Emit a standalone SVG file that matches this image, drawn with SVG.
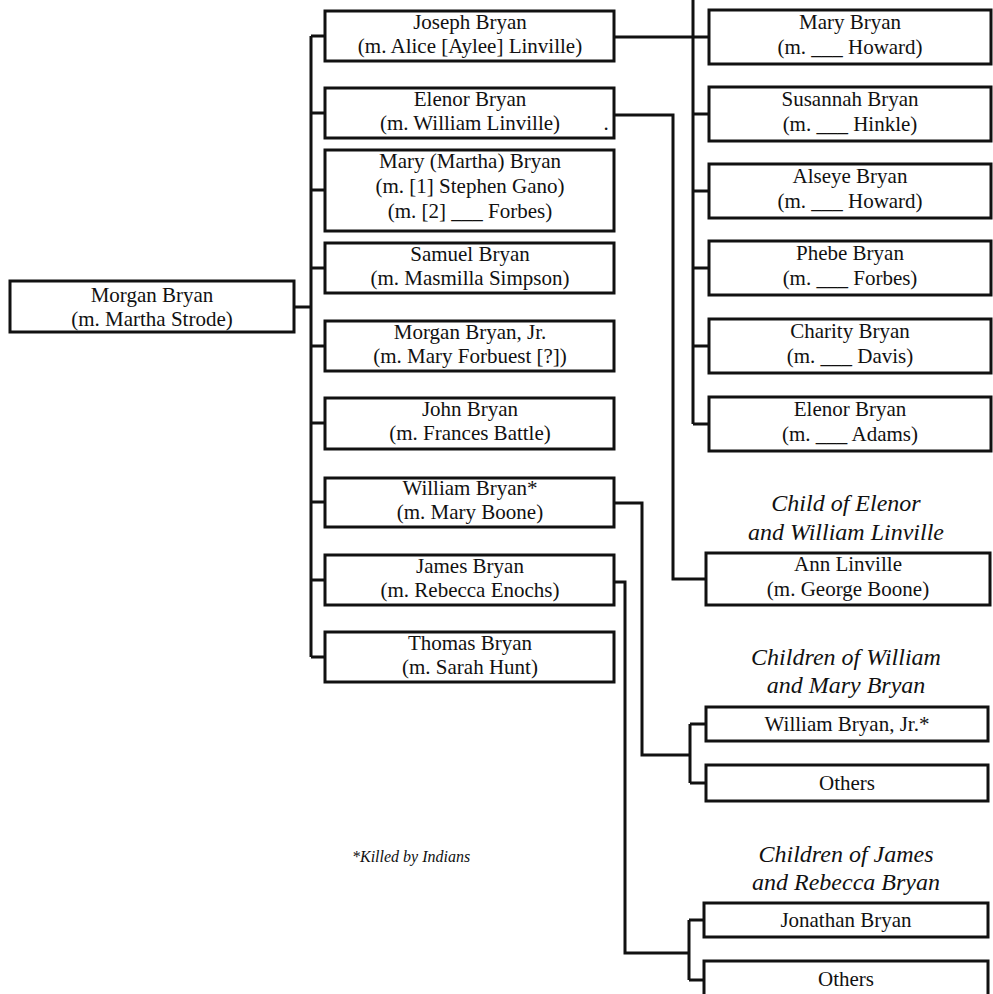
<svg xmlns="http://www.w3.org/2000/svg" width="993" height="994" viewBox="0 0 993 994">
<style>
  .box { fill: #fff; stroke: #111; stroke-width: 3; }
  .ln { fill: none; stroke: #111; stroke-width: 3; stroke-linejoin: miter; }
  .t { font-family: "Liberation Serif", "Times New Roman", serif; font-size: 21px; fill: #111; text-anchor: middle; }
  .cap { font-family: "Liberation Serif", "Times New Roman", serif; font-style: italic; font-size: 24px; fill: #111; text-anchor: middle; }
  .note { font-family: "Liberation Serif", "Times New Roman", serif; font-style: italic; font-size: 16px; fill: #111; }
</style>
<rect width="993" height="994" fill="#fff"/>

<g id="connectors">
  <!-- root to trunk -->
  <path class="ln" d="M294 307 H311"/>
  <path class="ln" d="M311 36 V657"/>
  <path class="ln" d="M311 36 H325 M311 113 H325 M311 190 H325 M311 268 H325 M311 346 H325 M311 423 H325 M311 502 H325 M311 580 H325 M311 657 H325"/>
  <!-- Joseph children -->
  <path class="ln" d="M614 37 H709"/>
  <path class="ln" d="M693 0 V424"/>
  <path class="ln" d="M693 114 H709 M693 191 H709 M693 268 H709 M693 346 H709 M693 424 H709"/>
  <!-- Elenor child -->
  <path class="ln" d="M614 115 H673 V579 H706"/>
  <!-- William children -->
  <path class="ln" d="M614 503 H642 V755 H690"/>
  <path class="ln" d="M690 724 V783 M690 724 H706 M690 783 H706"/>
  <!-- James children -->
  <path class="ln" d="M614 582 H625 V953 H689"/>
  <path class="ln" d="M689 920 V980 M689 920 H704 M689 980 H704"/>
</g>

<g id="morgan">
  <rect class="box" x="10" y="281" width="284" height="51"/>
  <text class="t" x="152" y="302">Morgan Bryan</text>
  <text class="t" x="152" y="326">(m. Martha Strode)</text>
</g>

<g id="joseph">
  <rect class="box" x="325" y="11" width="289" height="50"/>
  <text class="t" x="470" y="29">Joseph Bryan</text>
  <text class="t" x="470" y="53">(m. Alice [Aylee] Linville)</text>
</g>
<g id="elenor">
  <rect class="box" x="325" y="88" width="289" height="50"/>
  <text class="t" x="470" y="106">Elenor Bryan</text>
  <text class="t" x="470" y="130">(m. William Linville)</text>
  <text class="t" x="606" y="130">.</text>
</g>
<g id="mary-martha">
  <rect class="box" x="325" y="150" width="289" height="81"/>
  <text class="t" x="470" y="168">Mary (Martha) Bryan</text>
  <text class="t" x="470" y="193">(m. [1] Stephen Gano)</text>
  <text class="t" x="470" y="218">(m. [2] ___ Forbes)</text>
</g>
<g id="samuel">
  <rect class="box" x="325" y="243" width="289" height="50"/>
  <text class="t" x="470" y="261">Samuel Bryan</text>
  <text class="t" x="470" y="285">(m. Masmilla Simpson)</text>
</g>
<g id="morgan-jr">
  <rect class="box" x="325" y="321" width="289" height="50"/>
  <text class="t" x="470" y="339">Morgan Bryan, Jr.</text>
  <text class="t" x="470" y="363">(m. Mary Forbuest [?])</text>
</g>
<g id="john">
  <rect class="box" x="325" y="398" width="289" height="51"/>
  <text class="t" x="470" y="416">John Bryan</text>
  <text class="t" x="470" y="440">(m. Frances Battle)</text>
</g>
<g id="william">
  <rect class="box" x="325" y="478" width="289" height="49"/>
  <text class="t" x="470" y="495">William Bryan*</text>
  <text class="t" x="470" y="519">(m. Mary Boone)</text>
</g>
<g id="james">
  <rect class="box" x="325" y="555" width="289" height="50"/>
  <text class="t" x="470" y="573">James Bryan</text>
  <text class="t" x="470" y="597">(m. Rebecca Enochs)</text>
</g>
<g id="thomas">
  <rect class="box" x="325" y="632" width="289" height="50"/>
  <text class="t" x="470" y="650">Thomas Bryan</text>
  <text class="t" x="470" y="674">(m. Sarah Hunt)</text>
</g>

<g id="mary-howard">
  <rect class="box" x="709" y="10" width="282" height="54"/>
  <text class="t" x="850" y="29">Mary Bryan</text>
  <text class="t" x="850" y="54">(m. ___ Howard)</text>
</g>
<g id="susannah">
  <rect class="box" x="709" y="87" width="282" height="54"/>
  <text class="t" x="850" y="106">Susannah Bryan</text>
  <text class="t" x="850" y="131">(m. ___ Hinkle)</text>
</g>
<g id="alseye">
  <rect class="box" x="709" y="164" width="282" height="54"/>
  <text class="t" x="850" y="183">Alseye Bryan</text>
  <text class="t" x="850" y="208">(m. ___ Howard)</text>
</g>
<g id="phebe">
  <rect class="box" x="709" y="241" width="282" height="54"/>
  <text class="t" x="850" y="260">Phebe Bryan</text>
  <text class="t" x="850" y="285">(m. ___ Forbes)</text>
</g>
<g id="charity">
  <rect class="box" x="709" y="319" width="282" height="54"/>
  <text class="t" x="850" y="338">Charity Bryan</text>
  <text class="t" x="850" y="363">(m. ___ Davis)</text>
</g>
<g id="elenor-adams">
  <rect class="box" x="709" y="397" width="282" height="54"/>
  <text class="t" x="850" y="416">Elenor Bryan</text>
  <text class="t" x="850" y="441">(m. ___ Adams)</text>
</g>

<g id="caption-elenor">
  <text class="cap" x="846" y="511">Child of Elenor</text>
  <text class="cap" x="846" y="540">and William Linville</text>
</g>
<g id="ann">
  <rect class="box" x="706" y="553" width="284" height="52"/>
  <text class="t" x="848" y="571">Ann Linville</text>
  <text class="t" x="848" y="596">(m. George Boone)</text>
</g>

<g id="caption-william">
  <text class="cap" x="846" y="665">Children of William</text>
  <text class="cap" x="846" y="693">and Mary Bryan</text>
</g>
<g id="william-jr">
  <rect class="box" x="706" y="707" width="282" height="34"/>
  <text class="t" x="847" y="731">William Bryan, Jr.*</text>
</g>
<g id="others-william">
  <rect class="box" x="706" y="765" width="282" height="36"/>
  <text class="t" x="847" y="790">Others</text>
</g>

<g id="caption-james">
  <text class="cap" x="846" y="862">Children of James</text>
  <text class="cap" x="846" y="890">and Rebecca Bryan</text>
</g>
<g id="jonathan">
  <rect class="box" x="704" y="903" width="284" height="34"/>
  <text class="t" x="846" y="927">Jonathan Bryan</text>
</g>
<g id="others-james">
  <rect class="box" x="704" y="961" width="284" height="42"/>
  <text class="t" x="846" y="986">Others</text>
</g>

<g id="footnote">
  <text class="note" x="352" y="862">*Killed by Indians</text>
</g>
</svg>
